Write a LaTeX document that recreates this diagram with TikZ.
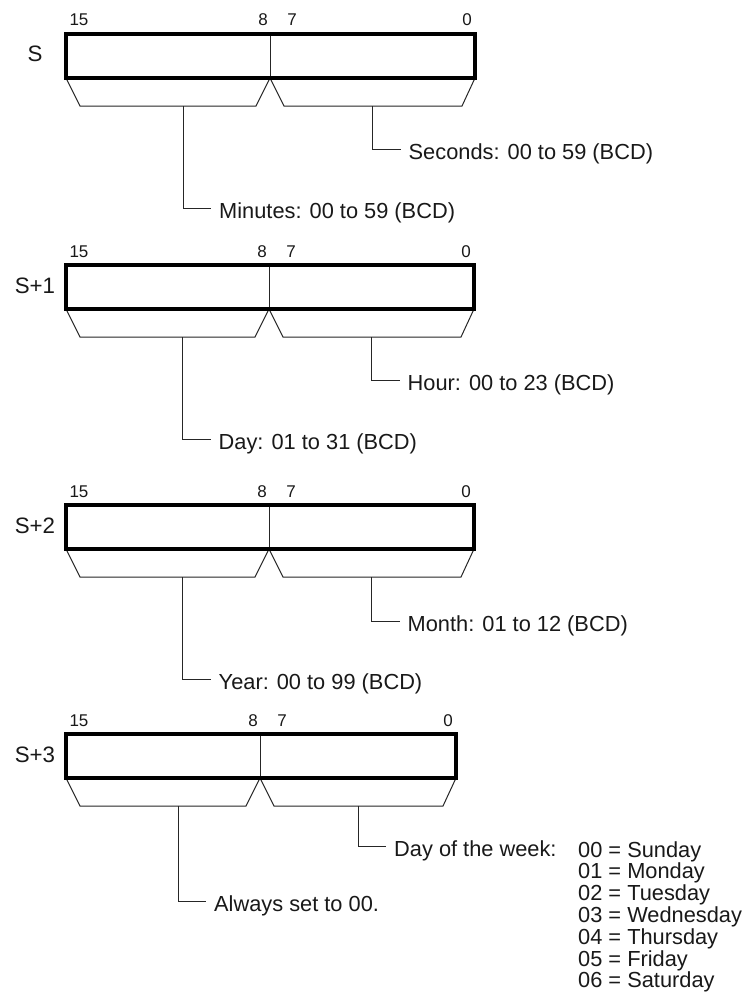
\documentclass[tikz,border=0pt]{standalone}
\usepackage{fontspec}
\setmainfont{Liberation Sans}
\usetikzlibrary{calc}
\tikzset{
  regbox/.style={line width=3.3pt, line join=miter},
  thinline/.style={line width=1pt, draw=black!85},
  lbl/.style={inner sep=0pt, font=\fontsize{21.8}{26}\selectfont, text=black!90},
  bitnum/.style={inner sep=0pt, font=\fontsize{17}{20}\selectfont, text=black!90, anchor=base},
  reglbl/.style={inner sep=0pt, font=\fontsize{22.3}{26}\selectfont, text=black!90, anchor=base},
}
% #1 id, #2 top, #3 right, #4 divider, #5 register label
\newcommand{\regblock}[5]{%
  \pgfmathsetmacro\rbTop{#2}%
  \pgfmathsetmacro\rbBot{#2+44}%
  \pgfmathsetmacro\rbBrk{#2+72}%
  \pgfmathsetmacro\rbLs{(66+#4)/2+15}%
  \pgfmathsetmacro\rbRs{(#4+#3)/2}%
  \coordinate (#1-tl) at (66,\rbTop);
  \coordinate (#1-bl) at (66,\rbBot);
  \coordinate (#1-br) at (#3,\rbBot);
  \coordinate (#1-tr) at (#3,\rbTop);
  \coordinate (#1-dt) at (#4,\rbTop);
  \coordinate (#1-db) at (#4,\rbBot);
  \coordinate (#1-k1) at (80,\rbBrk);
  \coordinate (#1-k2) at ($(#4,\rbBrk)+(-14,0)$);
  \coordinate (#1-k3) at ($(#4,\rbBrk)+(14,0)$);
  \coordinate (#1-k4) at ($(#3,\rbBrk)+(-13,0)$);
  \coordinate (#1-ls) at (\rbLs,\rbBrk);
  \coordinate (#1-rs) at (\rbRs,\rbBrk);
  \draw[thinline, line join=miter] (#1-bl) -- (#1-k1) -- (#1-k2) -- (#1-db) -- (#1-k3) -- (#1-k4) -- (#1-br);
  \draw[thinline] (#1-dt) -- (#1-db);
  \draw[regbox] (#1-tl) rectangle (#1-br);
  \node[bitnum] (#1-n15) at (79,\rbTop-8) {15};
  \node[bitnum] (#1-n8) at ($(#4,\rbTop-8)+(-7,0)$) {8};
  \node[bitnum] (#1-n7) at ($(#4,\rbTop-8)+(22,0)$) {7};
  \node[bitnum] (#1-n0) at ($(#3,\rbTop-8)+(-8,0)$) {0};
  \node[reglbl] (#1-name) at (35,\rbTop+28) {#5};
}
% #1 stem top coordinate, #2 line y, #3 name, #4 text
\newcommand{\stemlabel}[4]{%
  \coordinate (#3-end) at ($(#1 |- 0,#2)+(28,0)$);
  \draw[thinline] (#1) |- (#3-end);
  \node[lbl, anchor=base west] (#3) at ($(#3-end)+(8,10.5)$) {#4};
}
\begin{document}
\begin{tikzpicture}[x=1pt, y=-1pt]
  \useasboundingbox (0,0) rectangle (747,998);
  \fill[white] (0,0) rectangle (747,998);

  % S
  \regblock{a}{34}{475}{270}{S}
  \stemlabel{a-rs}{149}{sec}{Seconds: 00 to 59 (BCD)}
  \stemlabel{a-ls}{208}{min}{Minutes: 00 to 59 (BCD)}

  % S+1
  \regblock{b}{265}{474}{269}{S+1}
  \stemlabel{b-rs}{380}{hour}{Hour: 00 to 23 (BCD)}
  \stemlabel{b-ls}{439}{day}{Day: 01 to 31 (BCD)}

  % S+2
  \regblock{c}{505}{474}{269}{S+2}
  \stemlabel{c-rs}{621}{month}{Month: 01 to 12 (BCD)}
  \stemlabel{c-ls}{679}{year}{Year: 00 to 99 (BCD)}

  % S+3
  \regblock{d}{734}{456}{260}{S+3}
  \stemlabel{d-rs}{846}{dow}{Day of the week:}
  \stemlabel{d-ls}{901}{always}{Always set to 00.}

  \foreach \t [count=\i from 0] in {00 = Sunday, 01 = Monday, 02 = Tuesday, 03 = Wednesday, 04 = Thursday, 05 = Friday, 06 = Saturday}
    \node[lbl, anchor=base west] (wd\i) at (578, {857+21.8*\i}) {\t};
\end{tikzpicture}
\end{document}
